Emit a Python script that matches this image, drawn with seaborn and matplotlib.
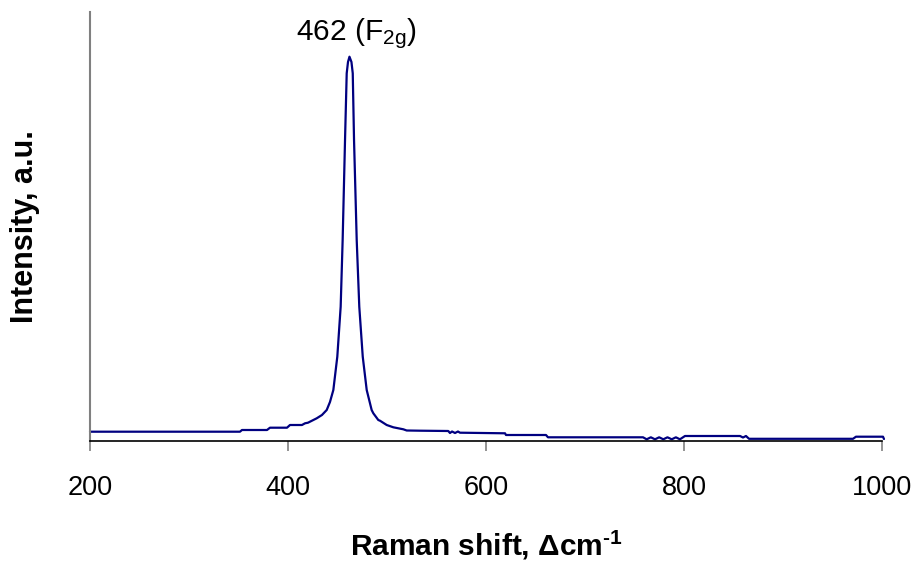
import numpy as np
import pandas as pd
import matplotlib
matplotlib.use("Agg")
import matplotlib.pyplot as plt
import seaborn as sns

# Raman spectrum, arbitrary intensity units
raman_shift = [200.0, 351.5, 353.5, 378.8, 381.8, 399.0, 402.0, 414.1, 417.2, 420.2,
               429.0, 434.3, 439.1, 442.4, 445.8, 449.8, 453.2, 455.2, 457.6, 459.3,
               460.6, 462.1, 464.1, 465.4, 466.7, 469.4, 472.0, 475.5, 479.5, 484.5,
               486.2, 491.2, 492.9, 499.7, 506.4, 516.5, 519.9, 533.3, 561.9, 563.6,
               565.7, 568.7, 571.7, 573.7, 619.2, 620.2, 660.6, 662.6, 758.6, 762.3,
               766.5, 770.7, 774.9, 779.1, 783.3, 787.6, 791.8, 795.9, 801.0, 856.6,
               859.6, 862.6, 865.7, 970.7, 973.7, 1001.0, 1002.0]
intensity = [9.3, 9.3, 11.0, 11.0, 13.3, 13.3, 16.0, 16.0, 17.7, 18.3,
             22.7, 26.0, 31.0, 39.0, 51.0, 84.3, 134.3, 201.0, 301.0, 367.7,
             379.0, 384.3, 379.0, 367.7, 301.0, 201.0, 134.3, 84.3, 51.0, 31.0,
             27.7, 21.0, 20.3, 16.0, 13.7, 11.7, 10.5, 10.3, 10.0, 8.0,
             9.5, 8.0, 9.5, 8.3, 7.7, 6.0, 6.0, 3.7, 3.7, 1.7,
             3.7, 1.7, 3.7, 1.7, 3.7, 1.7, 3.7, 1.7, 5.0, 5.0,
             3.5, 5.0, 2.2, 2.2, 4.3, 4.3, 2.0]

xticks = [200, 400, 600, 800, 1000]
peak_label = "462 (F$_{\\mathrm{2g}}$)"
peak_pos = 462

sns.set_style("white")
plt.rcParams['font.family'] = ['Liberation Sans', 'DejaVu Sans']
plt.rcParams['mathtext.fontset'] = 'custom'
plt.rcParams['mathtext.rm'] = 'Liberation Sans'
plt.rcParams['mathtext.it'] = 'Liberation Sans:italic'
plt.rcParams['mathtext.bf'] = 'Liberation Sans:bold'
plt.rcParams['text.color'] = 'black'
plt.rcParams['axes.labelcolor'] = 'black'
plt.rcParams['xtick.color'] = 'black'

fig = plt.figure(figsize=(9.19, 5.65), dpi=100)
ax = fig.add_axes([90/919, (565-441)/565, 792/919, 429.3/565])

df = pd.DataFrame({"shift": raman_shift, "intensity": intensity})
sns.lineplot(data=df, x="shift", y="intensity", ax=ax, color="#000080",
             linewidth=1.6, estimator=None, sort=False, clip_on=False)

ax.set_xlim(200, 1000)
ax.set_ylim(0, 429.3)
ax.set_xticks(xticks)
ax.set_xticklabels([str(t) for t in xticks], fontsize=19.5)
ax.set_yticks([])
ax.tick_params(axis='x', bottom=True, direction='out', length=7.5, width=1.2,
               color='#808080', labelcolor='black', pad=17)

for s in ['top', 'right']:
    ax.spines[s].set_visible(False)
ax.spines['left'].set_color('#808080')
ax.spines['left'].set_linewidth(1.5)
ax.spines['bottom'].set_color('black')
ax.spines['bottom'].set_linewidth(1.2)

ax.set_xlabel("Raman shift, $\\mathbf{\\Delta}$cm$^{\\mathbf{\u2010}\\mathbf{1}}$", fontsize=21.5,
              fontweight='bold', labelpad=20)
ax.set_ylabel("Intensity, a.u.", fontsize=22, fontweight='bold', labelpad=36)

ax.text(469, 390, peak_label, fontsize=21.5, ha='center', va='bottom')

fig.savefig("out.png", dpi=100)
